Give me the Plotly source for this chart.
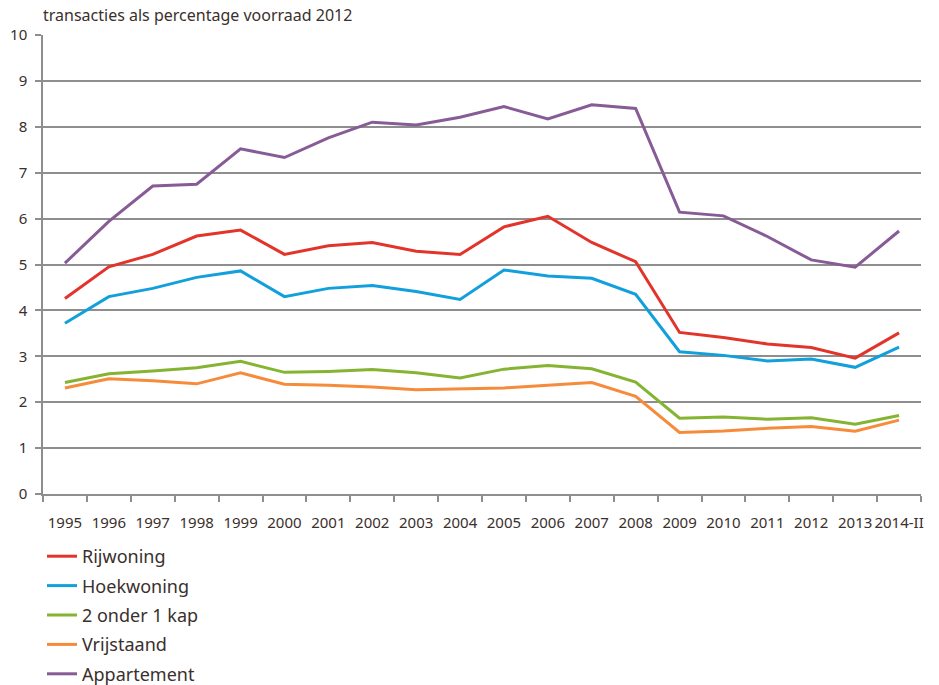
import plotly.graph_objects as go

years = ["1995", "1996", "1997", "1998", "1999", "2000", "2001", "2002", "2003", "2004",
         "2005", "2006", "2007", "2008", "2009", "2010", "2011", "2012", "2013", "2014-II"]

rijwoning = [4.26, 4.95, 5.22, 5.62, 5.75, 5.22, 5.41, 5.48, 5.29, 5.22,
             5.82, 6.05, 5.48, 5.06, 3.52, 3.41, 3.27, 3.19, 2.96, 3.51]
hoekwoning = [3.72, 4.30, 4.48, 4.72, 4.86, 4.30, 4.48, 4.54, 4.41, 4.24,
              4.88, 4.75, 4.70, 4.35, 3.10, 3.02, 2.90, 2.94, 2.76, 3.20]
twee_onder_een_kap = [2.43, 2.62, 2.68, 2.75, 2.89, 2.65, 2.67, 2.71, 2.64, 2.53,
                      2.72, 2.80, 2.73, 2.44, 1.65, 1.68, 1.63, 1.66, 1.52, 1.71]
vrijstaand = [2.31, 2.51, 2.47, 2.40, 2.64, 2.39, 2.37, 2.33, 2.27, 2.29,
              2.31, 2.37, 2.43, 2.13, 1.34, 1.37, 1.43, 1.47, 1.37, 1.61]
appartement = [5.03, 5.94, 6.71, 6.75, 7.52, 7.33, 7.76, 8.10, 8.04, 8.21,
               8.44, 8.17, 8.48, 8.40, 6.14, 6.06, 5.61, 5.10, 4.94, 5.73]

series = [
    ("Rijwoning", rijwoning, "#E3342B"),
    ("Hoekwoning", hoekwoning, "#12A0DC"),
    ("2 onder 1 kap", twee_onder_een_kap, "#84B432"),
    ("Vrijstaand", vrijstaand, "#F68B3C"),
    ("Appartement", appartement, "#875B96"),
]

TEXT = "#3A302C"
GRID = "#8E8E8E"
FONT = "Noto Sans"

fig = go.Figure()
for name, vals, col in series:
    fig.add_trace(go.Scatter(
        x=years, y=vals, name=name, mode="lines",
        line=dict(color=col, width=3),
        legendgroup=name,
    ))

fig.update_layout(
    width=939, height=685,
    margin=dict(l=43, r=18, t=35, b=191, autoexpand=False),
    paper_bgcolor="white", plot_bgcolor="white",
    font=dict(family=FONT, color=TEXT, size=15),
    showlegend=True,
    legend=dict(
        x=42 / 939, xref="container", y=1 - 538 / 685, yref="container",
        xanchor="left", yanchor="top",
        orientation="v", traceorder="grouped", tracegroupgap=3,
        font=dict(size=18, color=TEXT, family=FONT),
        itemwidth=30, bgcolor="rgba(0,0,0,0)",
    ),
    annotations=[dict(
        text="transacties als percentage voorraad 2012",
        xref="paper", yref="paper", x=-0.002, y=1.0, xanchor="left", yanchor="bottom",
        yshift=7, showarrow=False, font=dict(size=16, color=TEXT, family=FONT),
    )],
)

fig.update_xaxes(
    type="category", range=[-0.5, 19.5], automargin=False,
    showgrid=False, showline=True, linecolor=GRID, linewidth=1.5,
    ticks="outside", tickson="boundaries", ticklen=6, tickcolor=GRID, tickwidth=1.5,
    tickfont=dict(size=15, color=TEXT), ticklabelstandoff=14, tickangle=0,
)
fig.update_yaxes(
    range=[0, 10], dtick=1, tick0=0, automargin=False,
    showgrid=True, gridcolor=GRID, gridwidth=1.5,
    showline=True, linecolor=GRID, linewidth=1.5,
    ticks="outside", ticklen=6, tickcolor=GRID, tickwidth=1.5,
    tickfont=dict(size=15, color=TEXT), ticklabelstandoff=5,
    zeroline=False,
)

fig.write_html("out.html", config={"displayModeBar": False},
               post_script="document.body.style.margin='0';")
